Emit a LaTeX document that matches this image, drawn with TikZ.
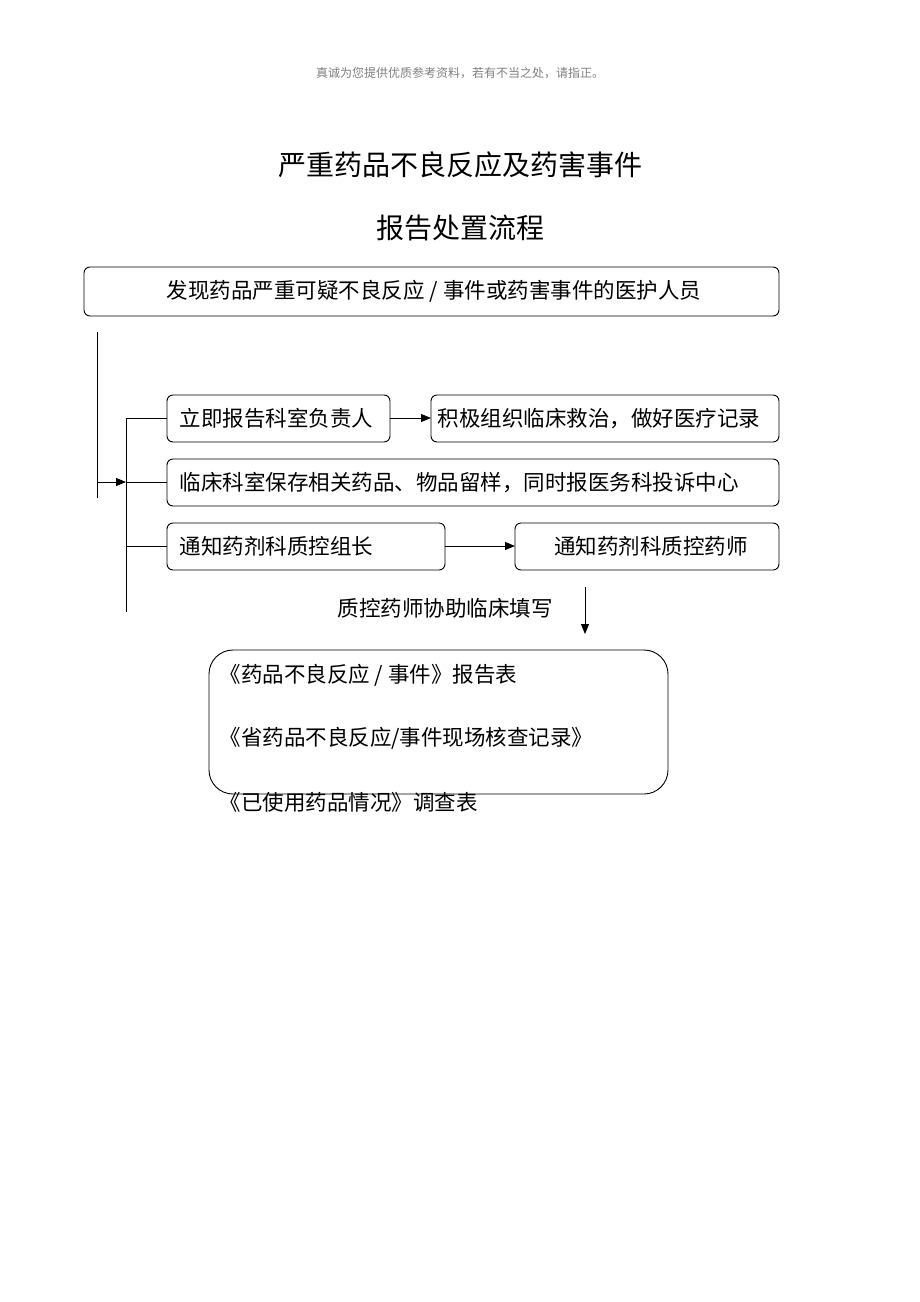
\documentclass[tikz,border=0pt]{standalone}
\usepackage{fontspec}
\setmainfont{Noto Sans CJK SC}
\usetikzlibrary{arrows.meta}
\begin{document}
\begin{tikzpicture}[x=1pt,y=-1pt,
  bx/.style={draw,rounded corners=6pt,line width=0.9pt,inner sep=0pt},
  txt/.style={font=\fontsize{21.5}{24}\selectfont},
  ln/.style={line width=0.9pt},
  ar/.style={ln,-{Triangle[length=10pt,width=8pt]}}]
\useasboundingbox[fill=white] (0,0) rectangle (920,1302);
\node[font=\fontsize{12}{14}\selectfont,text=gray] (hd) at (460,73) {真诚为您提供优质参考资料，若有不当之处，请指正。};
\node[font=\fontsize{28}{32}\selectfont] (t1) at (460,165) {严重药品不良反应及药害事件};
\node[font=\fontsize{28}{32}\selectfont] (t2) at (460,228) {报告处置流程};
\draw[bx] (84,267) rectangle (779,316);
\node[txt] (top) at (434,291.5) {发现药品严重可疑不良反应 / 事件或药害事件的医护人员};
\draw[bx] (167,395) rectangle (390,442);
\node[txt,anchor=west] (b1) at (176,418.5) {立即报告科室负责人};
\draw[bx] (431,395) rectangle (779,442);
\node[txt,anchor=west] (b2) at (434,418.5) {积极组织临床救治，做好医疗记录};
\draw[bx] (167,459) rectangle (779,506);
\node[txt,anchor=west] (b3) at (176,482.5) {临床科室保存相关药品、物品留样，同时报医务科投诉中心};
\draw[bx] (167,523) rectangle (445,570);
\node[txt,anchor=west] (b4) at (176,546.5) {通知药剂科质控组长};
\draw[bx] (515,523) rectangle (779,570);
\node[txt] (b5) at (651,546.5) {通知药剂科质控药师};
\coordinate (l1) at (97,332); \coordinate (l2) at (97,498);
\coordinate (la) at (97,482); \coordinate (lb) at (126,482);
\coordinate (v1) at (126,418); \coordinate (v2) at (126,612);
\draw[ln] (l1) -- (l2);
\draw[ar] (la) -- (lb);
\draw[ln] (v1) -- (v2);
\draw[ln] (126,418) -- (167,418);
\draw[ln] (126,482) -- (167,482);
\draw[ln] (126,546) -- (167,546);
\draw[ar] (390,418) -- (431,418);
\draw[ar] (445,546) -- (515,546);
\node[txt] (hint) at (445,608) {质控药师协助临床填写};
\coordinate (d1) at (585,587); \coordinate (d2) at (585,634);
\draw[ar] (d1) -- (d2);
\draw[bx,rounded corners=24pt] (209,650) rectangle (668,794);
\node[txt,anchor=west] (f1) at (216,675) {《药品不良反应 / 事件》报告表};
\node[txt,anchor=west] (f2) at (216,738) {《省药品不良反应/事件现场核查记录》};
\node[txt,anchor=west] (f3) at (216,802) {《已使用药品情况》调查表};
\end{tikzpicture}
\end{document}
